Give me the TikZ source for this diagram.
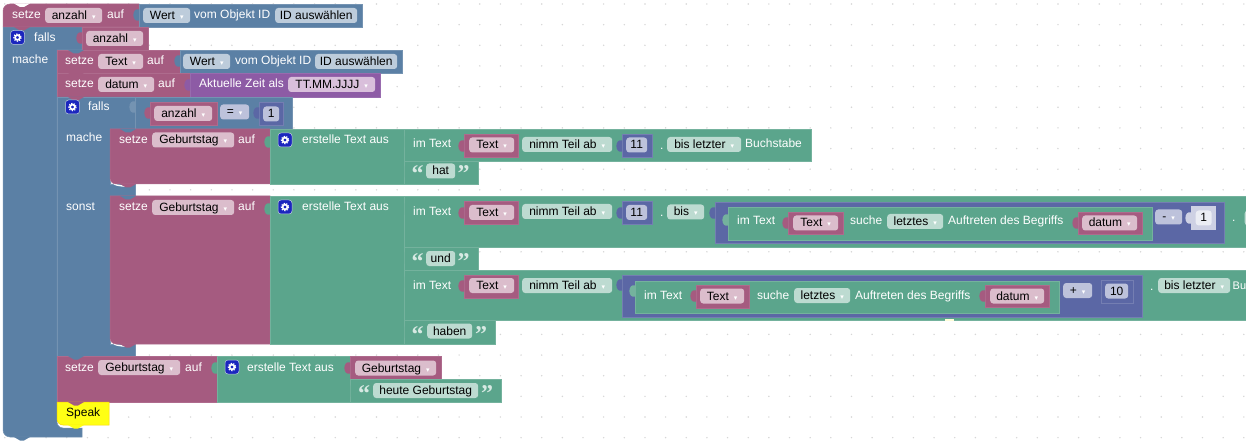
\documentclass[tikz,border=0pt]{standalone}
\usepackage{fontspec}
\setmainfont{Liberation Sans}
\newfontfamily\symfont{DejaVu Sans}
\newfontfamily\quotefont{Liberation Serif}

\definecolor{cred}{HTML}{A55B80}
\definecolor{cblue}{HTML}{5B80A5}
\definecolor{cgreen}{HTML}{5BA58C}
\definecolor{cmath}{HTML}{5B67A5}
\definecolor{cdate}{HTML}{8D5BA5}
\definecolor{cyell}{HTML}{FFFF14}
\definecolor{cred-f}{HTML}{DBBDCC}
\definecolor{cblue-f}{HTML}{BDCCDB}
\definecolor{cgreen-f}{HTML}{BDDBD1}
\definecolor{cmath-f}{HTML}{BDC2DB}
\definecolor{cdate-f}{HTML}{D9BFDB}

\newcommand{\darr}{\hspace{5pt}{\symfont\fontsize{7}{7}\selectfont\textcolor{white}{▾}}}
\newcommand{\ptab}[3]{\fill[#3] (#1,#2-5.5) .. controls (#1-7.5,#2-8) and (#1-7.5,#2+8) .. (#1,#2+5.5) -- cycle;}
\newcommand{\pnotch}[3]{\fill[#3] (#1-8,#2) .. controls (#1-5,#2) and (#1-5,#2+3.5) .. (#1-2,#2+3.5) -- (#1+2,#2+3.5) .. controls (#1+5,#2+3.5) and (#1+5,#2) .. (#1+8,#2) -- cycle;}

\begin{document}
\begin{tikzpicture}[
		x=1pt, y=-1pt,
		every node/.style = {font=\fontsize{12}{14}\selectfont, text height=11, text depth=3},
		lab/.style = {anchor=west, inner sep=0, text=white},
		fr/.style = {anchor=west, inner sep=0, minimum height=15, rounded corners=3pt, fill=cred-f, text=black},
		fb/.style = {fr, fill=cblue-f},
		fg/.style = {fr, fill=cgreen-f},
		fm/.style = {fr, fill=cmath-f},
		fd/.style = {fr, fill=cdate-f},
		qt/.style = {inner sep=0, text=cgreen-f!60!white, font=\quotefont\fontsize{24}{24}\selectfont\bfseries},
		gearb/.style = {minimum size=14, inner sep=0, rounded corners=3pt, fill=blue!65!cblue!85!black, draw=white!60!cblue, line width=.5,
			path picture={
				\draw[white, line width=1.7] (path picture bounding box.center) circle (2.4);
				\draw[white, line width=1.1, dash pattern=on 1.3pt off 1.3pt] (path picture bounding box.center) circle (3.7);
			}},
		br/.style = {fill=cred, draw=cred!90!white, line width=.5},
		bb/.style = {fill=cblue, draw=cblue!85!white, line width=.5},
		bg/.style = {fill=cgreen, draw=cgreen!85!white, line width=.5},
		bm/.style = {fill=cmath, draw=cmath!85!white, line width=.5},
		bd/.style = {fill=cdate, draw=cdate!90!white, line width=.5},
		griddot/.style = {fill=black!16}
		]
		
		\clip (0,0) rectangle (1246,446);
		\fill[white] (0,0) rectangle (1246,446);
		
		% === === Grid === ===
		\foreach \i in {0,...,60}
			\foreach \j in {0,...,21}
				\fill[griddot] (4.8+\i*20.65,4+\j*20.65) circle (.8);
		
		% === === Blocks === ===
		\path[bb] (3,27) -- (82,27) -- (82,50) -- (57,50) [rounded corners=6pt] -- (57,428) [sharp corners] -- (82,428) -- (82,437) [rounded corners=7pt] -- (3,437) [sharp corners] -- cycle;
		\path[br] (3,27) [rounded corners=7pt] -- (3,4) [sharp corners] -- (139,4) -- (139,27) -- cycle;
		\path[bb] (139,4) rectangle (362,27);
		\path[br] (82,27) rectangle (148,50);
		
		\path[br] (57,50) rectangle (180,73);
		\path[bb] (180,50) rectangle (402,73);
		\path[br] (57,73) rectangle (190,97);
		\path[bd] (190,73) rectangle (380,97);
		
		\path[bb] (57,97) -- (135,97) -- (135,129) -- (110,129) -- (110,184) -- (135,184) -- (135,196) -- (110,196) -- (110,344) -- (135,344) -- (135,356) -- (57,356) -- cycle;
		\path[bb] (135,97) rectangle (292,129);
		\path[br] (150,102) rectangle (217,125);
		\path[bm] (259,102) rectangle (283,125);
		
		% mache
		\draw[white, line width=1.3] (110.7,178) .. controls (111,185) and (117,185.5) .. (126,186.3);
		\path[br] (110,129) -- (270,129) -- (270,184) [rounded corners=6pt] -- (110,184) [sharp corners] -- cycle;
		\path[bg] (270,129) rectangle (404,184);
		\path[bg] (404,129) rectangle (811,161);
		\path[bg] (404,161) rectangle (478,184);
		\path[br] (464,134) rectangle (518,157);
		\path[bm] (622,134) rectangle (652,157);
		
		% sonst
		\draw[white, line width=1.3] (110.7,338) .. controls (111,345) and (117,345.5) .. (126,346.3);
		\path[br] (110,196) -- (270,196) -- (270,344) [rounded corners=6pt] -- (110,344) [sharp corners] -- cycle;
		\path[bg] (270,196) rectangle (404,344);
		\path[bg] (404,196) rectangle (1260,247);
		\path[bg] (404,247) rectangle (478,270);
		\path[bg] (404,270) rectangle (1260,320);
		\path[bg] (404,320) rectangle (495,344);
		\fill[yellow!15] (945,319) rectangle (954,321);
		
		\path[br] (464,201) rectangle (518,224);
		\path[bm] (622,201) rectangle (652,224);
		\path[bm] (715,202) rectangle (1224,243);
		\path[bg] (728,207) rectangle (1152,240);
		\path[br] (788,212) rectangle (843,234);
		\path[br] (1078,212) rectangle (1142,234);
		\fill[cmath-f!75!white] (1191,206) rectangle (1216,230);
		
		\path[br] (464,275) rectangle (518,298);
		\path[bm] (622,275) rectangle (1142,317);
		\path[bg] (635,281) rectangle (1059,313);
		\path[br] (696,285) rectangle (749,308);
		\path[br] (985,285) rectangle (1049,307);
		\path[bm] (1101,280) rectangle (1133,303);
		
		% letzte Zeile
		\path[br] (57,356) rectangle (217,402);
		\path[bg] (217,356) rectangle (350,402);
		\path[br] (350,356) rectangle (441,379);
		\path[bg] (350,379) rectangle (501,402);
		\path[fill=cyell, draw=yellow!70!orange, line width=.5] (57,402) -- (109,402) -- (109,425) [rounded corners=6pt] -- (57,425) [sharp corners] -- cycle;
		
		% === === Tabs === ===
		\ptab{139}{15}{cblue}
		\ptab{82}{38}{cred}
		\ptab{180}{61}{cblue}
		\ptab{190}{85}{cdate}
		\ptab{135}{107}{cblue!85!white}
		\ptab{150}{113}{cred}
		\ptab{259}{113}{cmath}
		\ptab{270}{142}{cgreen}
		\ptab{270}{209}{cgreen}
		\ptab{404}{142}{cgreen}
		\ptab{404}{172}{cgreen}
		\ptab{404}{209}{cgreen}
		\ptab{404}{258}{cgreen}
		\ptab{404}{282}{cgreen}
		\ptab{404}{332}{cgreen}
		\ptab{464}{146}{cred}
		\ptab{622}{146}{cmath}
		\ptab{464}{213}{cred}
		\ptab{622}{213}{cmath}
		\ptab{715}{213}{cmath}
		\ptab{728}{220}{cgreen!85!white}
		\ptab{788}{223}{cred}
		\ptab{1078}{223}{cred}
		\ptab{1191}{218}{cmath-f!75!white}
		\ptab{464}{286}{cred}
		\ptab{622}{285}{cmath}
		\ptab{635}{291}{cgreen!85!white}
		\ptab{696}{296}{cred}
		\ptab{985}{296}{cred}
		\ptab{1101}{291}{cmath}
		\ptab{217}{368}{cgreen}
		\ptab{350}{368}{cred}
		\ptab{350}{391}{cgreen}
		
		% === === Notches === ===
		\pnotch{22}{3.5}{white}
		\pnotch{22}{27}{cred}
		\pnotch{22}{437}{cblue}
		\pnotch{76}{50}{cblue}
		\pnotch{76}{73}{cred}
		\pnotch{76}{97}{cred}
		\pnotch{128}{129}{cblue}
		\pnotch{128}{184}{cred}
		\pnotch{128}{196}{cblue}
		\pnotch{128}{344}{cred}
		\pnotch{76}{356}{cblue}
		\pnotch{76}{402}{cred}
		\pnotch{76}{425}{cyell}
		
		% === === Nodes === ===
		\node[lab]	(s1)	at	(12,15)		{setze};
		\node[fr, minimum width=57]	(f1)	at	(45,15.5)	{anzahl\darr};
		\node[lab]	(a1)	at	(107,15)	{auf};
		\node[fb, minimum width=47]	(w1)	at	(143,15.5)	{Wert\darr};
		\node[lab]	(v1)	at	(194,15)	{vom Objekt ID};
		\node[fb, minimum width=82]	(i1)	at	(275,15.5)	{ID auswählen};
		
		\node[gearb]	(g1)	at	(17.5,37.5)	{};
		\node[lab]	(if1)	at	(34,38)		{falls};
		\node[fr, minimum width=57]	(f2)	at	(86,38.5)	{anzahl\darr};
		\node[lab]	(do1)	at	(12,60)		{mache};
		
		\node[lab]	(s2)	at	(65,61)		{setze};
		\node[fr, minimum width=45]	(f3)	at	(98,61.5)	{Text\darr};
		\node[lab]	(a2)	at	(147,61)	{auf};
		\node[fb, minimum width=47]	(w2)	at	(183,61.5)	{Wert\darr};
		\node[lab]	(v2)	at	(235,61)	{vom Objekt ID};
		\node[fb, minimum width=82]	(i2)	at	(315,61.5)	{ID auswählen};
		
		\node[lab]	(s3)	at	(65,84)		{setze};
		\node[fr, minimum width=56]	(f4)	at	(98,84.5)	{datum\darr};
		\node[lab]	(a3)	at	(158,84)	{auf};
		\node[lab]	(t1)	at	(199,84)	{Aktuelle Zeit als};
		\node[fd, minimum width=87]	(z1)	at	(288,84.5)	{TT.MM.JJJJ\darr};
		
		\node[gearb]	(g2)	at	(72.5,107)	{};
		\node[lab]	(if2)	at	(88,107)	{falls};
		\node[fr, minimum width=58]	(f5)	at	(154,113.5)	{anzahl\darr};
		\node[fm, minimum width=29]	(e1)	at	(220,112)	{=\darr};
		\node[fm, minimum width=16]	(n1)	at	(263,114)	{1};
		\node[lab]	(do2)	at	(66,138)	{mache};
		
		% mache
		\node[lab]	(s4)	at	(119,140)	{setze};
		\node[fr, minimum width=82]	(f6)	at	(152,140)	{Geburtstag\darr};
		\node[lab]	(a4)	at	(238,140)	{auf};
		\node[gearb]	(g3)	at	(285,140)	{};
		\node[lab]	(c1)	at	(302,140)	{erstelle Text aus};
		\node[lab]	(m1)	at	(413,144)	{im Text};
		\node[fr, minimum width=45]	(f7)	at	(469,145)	{Text\darr};
		\node[fg, minimum width=90]	(p1)	at	(522,144.5)	{nimm Teil ab\darr};
		\node[fm, minimum width=21]	(n2)	at	(626,145)	{11};
		\node[lab]	(d1)	at	(660,146)	{.};
		\node[fg, minimum width=74]	(b1)	at	(667,144.5)	{bis letzter\darr};
		\node[lab]	(u1)	at	(745,144)	{Buchstabe};
		
		\node[qt]	(q1)	at	(417.5,178)	{“};
		\node[fg, minimum width=29]	(h1)	at	(426,171)	{hat};
		\node[qt]	(q2)	at	(463.5,178)	{”};
		
		% sonst
		\node[lab]	(do3)	at	(66,207)	{sonst};
		\node[lab]	(s5)	at	(119,207)	{setze};
		\node[fr, minimum width=82]	(f8)	at	(152,207.5)	{Geburtstag\darr};
		\node[lab]	(a5)	at	(238,207)	{auf};
		\node[gearb]	(g4)	at	(285,207)	{};
		\node[lab]	(c2)	at	(302,207)	{erstelle Text aus};
		\node[lab]	(m2)	at	(413,211)	{im Text};
		\node[fr, minimum width=45]	(f9)	at	(469,212.5)	{Text\darr};
		\node[fg, minimum width=90]	(p2)	at	(522,211.5)	{nimm Teil ab\darr};
		\node[fm, minimum width=21]	(n3)	at	(626,212.5)	{11};
		\node[lab]	(d2)	at	(660,213)	{.};
		\node[fg, minimum width=37]	(b2)	at	(667,212)	{bis\darr};
		
		\node[lab]	(m3)	at	(737,221)	{im Text};
		\node[fr, minimum width=45]	(f10)	at	(793,223)	{Text\darr};
		\node[lab]	(k1)	at	(850,221)	{suche};
		\node[fg, minimum width=56]	(x1)	at	(887,221.5)	{letztes\darr};
		\node[lab]	(o1)	at	(948,221)	{Auftreten des Begriffs};
		\node[fr, minimum width=55]	(f11)	at	(1082,223)	{datum\darr};
		\node[fm, minimum width=27]	(e2)	at	(1155,217)	{-\darr};
		\node[fm, fill=cmath-f!30!white, minimum width=16]	(n4)	at	(1195.5,218)	{1};
		\node[lab]	(d3)	at	(1232,218)	{.};
		\node[fg, minimum width=40]	(b3)	at	(1244.5,218)	{};
		
		\node[qt]	(q3)	at	(417.5,265)	{“};
		\node[fg, minimum width=29]	(h2)	at	(426,258.5)	{und};
		\node[qt]	(q4)	at	(463.5,265)	{”};
		
		\node[lab]	(m4)	at	(413,285)	{im Text};
		\node[fr, minimum width=45]	(f12)	at	(469,285.5)	{Text\darr};
		\node[fg, minimum width=90]	(p3)	at	(522,285.5)	{nimm Teil ab\darr};
		\node[lab]	(m5)	at	(644,295)	{im Text};
		\node[fr, minimum width=44]	(f13)	at	(700,296)	{Text\darr};
		\node[lab]	(k2)	at	(757,295)	{suche};
		\node[fg, minimum width=56]	(x2)	at	(794,295.5)	{letztes\darr};
		\node[lab]	(o2)	at	(855,295)	{Auftreten des Begriffs};
		\node[fr, minimum width=54]	(f14)	at	(990,296)	{datum\darr};
		\node[fm, minimum width=29]	(e3)	at	(1063,290.5)	{+\darr};
		\node[fm, minimum width=23]	(n5)	at	(1105,291)	{10};
		\node[lab]	(d4)	at	(1150,286)	{.};
		\node[fg, minimum width=72]	(b4)	at	(1158,285.5)	{bis letzter\darr};
		\node[lab, font=\fontsize{11}{13}\selectfont]	(u2)	at	(1232.5,285)	{Bu};
		
		\node[qt]	(q5)	at	(417.5,338)	{“};
		\node[fg, minimum width=45]	(h3)	at	(427,331)	{haben};
		\node[qt]	(q6)	at	(481,338)	{”};
		
		% letzte Zeile
		\node[lab]	(s6)	at	(65,367)	{setze};
		\node[fr, minimum width=82]	(f15)	at	(98,367.5)	{Geburtstag\darr};
		\node[lab]	(a6)	at	(185,367)	{auf};
		\node[gearb]	(g5)	at	(232,367)	{};
		\node[lab]	(c3)	at	(247,367)	{erstelle Text aus};
		\node[fr, minimum width=81]	(f16)	at	(355,368)	{Geburtstag\darr};
		\node[qt]	(q7)	at	(364,397)	{“};
		\node[fg, minimum width=105]	(h4)	at	(373,390.5)	{heute Geburtstag};
		\node[qt]	(q8)	at	(487,397)	{”};
		\node[lab, text=black]	(sp)	at	(66,412)	{Speak};
		
\end{tikzpicture}
\end{document}
